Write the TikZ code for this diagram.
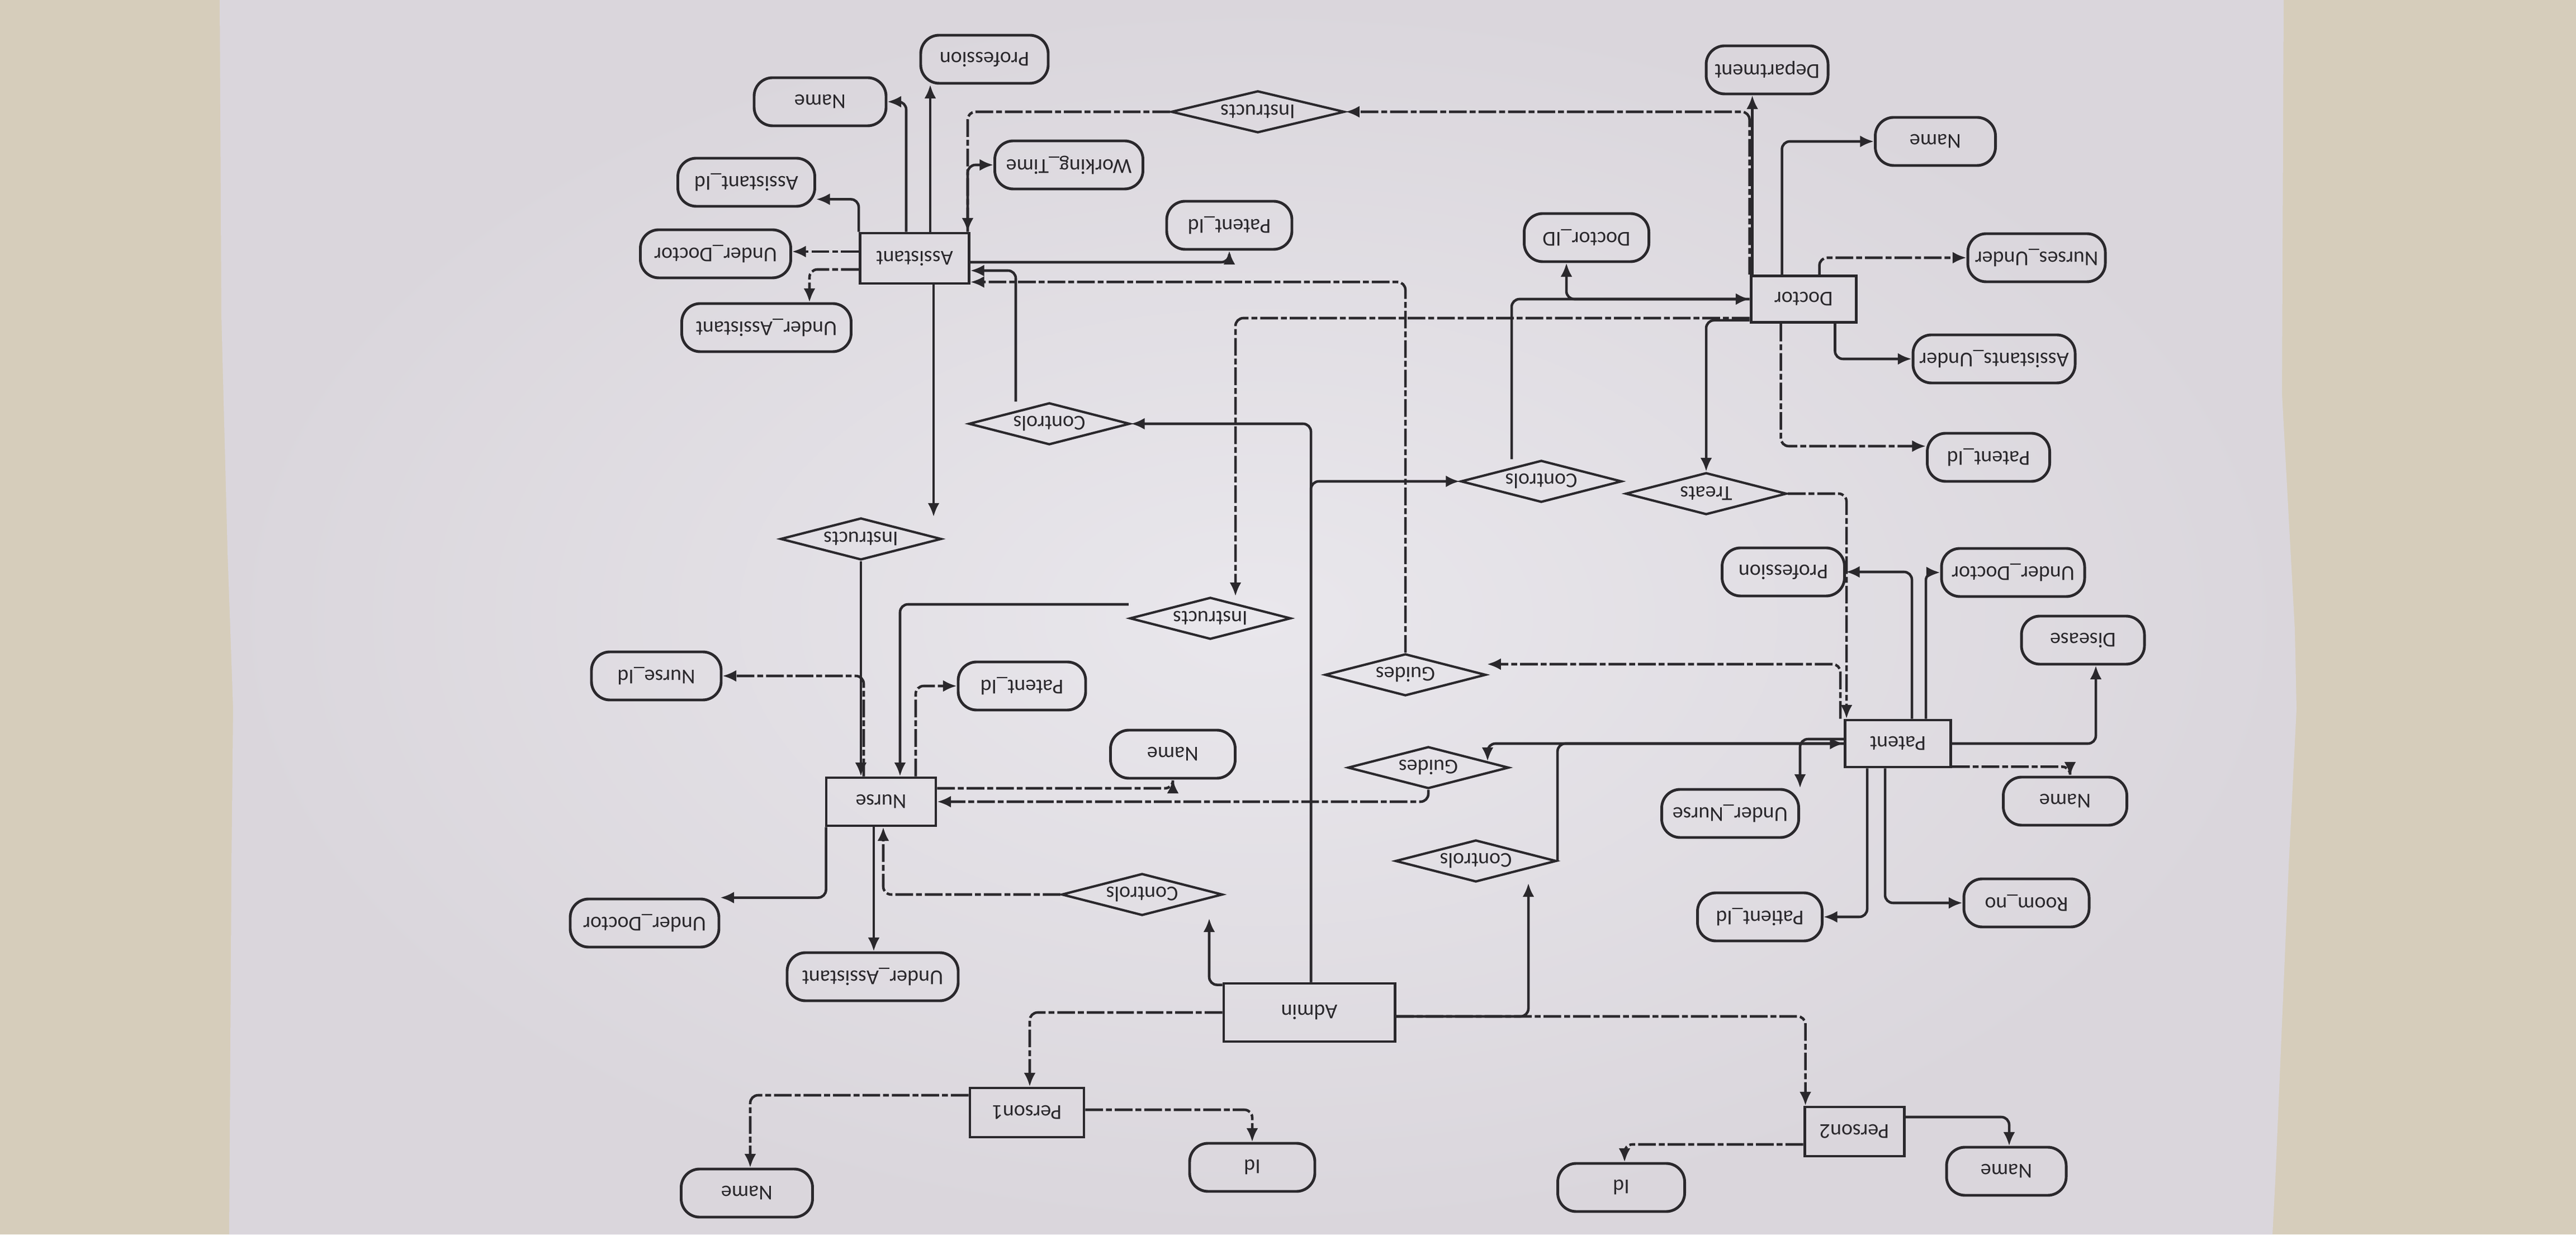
\documentclass[tikz,border=0pt]{standalone}
\usepackage{fontspec}
\usepackage{graphicx}
\setmainfont{Carlito}
\usetikzlibrary{shapes.geometric, arrows.meta, calc}

\definecolor{desk}{RGB}{214,205,187}
\definecolor{paper}{RGB}{218,214,220}
\definecolor{paperhi}{RGB}{233,231,236}
\definecolor{ink}{RGB}{42,40,44}

\newcommand{\updown}[1]{\rotatebox{180}{#1}}

\tikzset{
  ent/.style={rectangle, draw=ink, line width=1.4pt, minimum width=1.9cm, minimum height=0.86cm, inner sep=0pt, text=ink, font=\fontsize{10.8}{12}\selectfont},
  attr/.style={rectangle, rounded corners=3.3mm, draw=ink, line width=1.4pt, minimum height=0.86cm, inner sep=0pt, text=ink, font=\fontsize{10.8}{12}\selectfont},
  rel/.style={diamond, aspect=3.9, draw=ink, line width=1.2pt, minimum width=2.88cm, minimum height=0.75cm, inner sep=0pt, text=ink, font=\fontsize{10.8}{12}\selectfont},
  lnk/.style={draw=ink, line width=1.3pt, rounded corners=4pt, ->},
  dsh/.style={lnk, dash pattern=on 9pt off 1.5pt on 3pt off 1.5pt}
}

\begin{document}
\begin{tikzpicture}[>={Latex[length=7pt,width=6pt]}]
\useasboundingbox (0,0) rectangle (46.08,22.08);

% desk and sheet
\fill[desk] (0,0) rectangle (46.08,22.08);
\shade[inner color=paperhi, outer color=paper] (3.93,22.08) -- (3.96,16.45) -- (4.07,12.22) -- (4.17,9.40) -- (4.14,6.59) -- (4.10,0) -- (40.65,0) -- (40.70,0.95) -- (40.94,6.59) -- (41.08,9.40) -- (41.05,10.81) -- (40.82,15.04) -- (40.85,22.08) -- cycle;

% Assistant
\node[ent, minimum width=1.95cm, minimum height=0.9cm] (asst) at (16.36,17.46) {\updown{Assistant}};
\node[attr, minimum width=2.36cm] (aName) at (14.67,20.26) {\updown{Name}};
\node[attr, minimum width=2.28cm] (aProf) at (17.61,21.02) {\updown{Profession}};
\node[attr, minimum width=2.65cm] (aWork) at (19.12,19.13) {\updown{Working\_Time}};
\node[attr, minimum width=2.45cm] (aAid) at (13.35,18.82) {\updown{Assistant\_Id}};
\node[attr, minimum width=2.24cm] (aPid) at (21.99,18.05) {\updown{Patent\_Id}};
\node[attr, minimum width=2.69cm] (aUdoc) at (12.80,17.54) {\updown{Under\_Doctor}};
\node[attr, minimum width=3.03cm] (aUasst) at (13.71,16.22) {\updown{Under\_Assistant}};

% Doctor
\node[ent, minimum width=1.88cm, minimum height=0.83cm] (doc) at (32.26,16.73) {\updown{Doctor}};
\node[attr, minimum width=2.18cm] (dDept) at (31.61,20.83) {\updown{Department}};
\node[attr, minimum width=2.15cm] (dName) at (34.62,19.55) {\updown{Name}};
\node[attr, minimum width=2.23cm] (dId) at (28.38,17.83) {\updown{Doctor\_ID}};
\node[attr, minimum width=2.46cm] (dNurses) at (36.43,17.47) {\updown{Nurses\_Under}};
\node[attr, minimum width=2.90cm] (dAssts) at (35.67,15.66) {\updown{Assistants\_Under}};
\node[attr, minimum width=2.19cm] (dPid) at (35.57,13.90) {\updown{Patent\_Id}};

% relations
\node[rel, minimum width=3.1cm] (instTop) at (22.50,20.08) {\updown{Instructs}};
\node[rel] (ctrlA) at (18.77,14.50) {\updown{Controls}};
\node[rel] (instL) at (15.40,12.44) {\updown{Instructs}};
\node[rel] (ctrlD) at (27.57,13.47) {\updown{Controls}};
\node[rel] (treats) at (30.52,13.25) {\updown{Treats}};
\node[rel] (instM) at (21.65,11.02) {\updown{Instructs}};
\node[rel] (guideA) at (25.14,10.01) {\updown{Guides}};
\node[rel] (guideN) at (25.55,8.35) {\updown{Guides}};
\node[rel] (ctrlP) at (26.40,6.68) {\updown{Controls}};
\node[rel] (ctrlN) at (20.43,6.08) {\updown{Controls}};

% Patient
\node[ent, minimum width=1.89cm, minimum height=0.84cm] (pat) at (33.95,8.78) {\updown{Patent}};
\node[attr, minimum width=2.19cm] (pProf) at (31.90,11.85) {\updown{Profession}};
\node[attr, minimum width=2.56cm] (pUdoc) at (36.01,11.84) {\updown{Under\_Doctor}};
\node[attr, minimum width=2.20cm] (pDis) at (37.26,10.63) {\updown{Disease}};
\node[attr, minimum width=2.21cm] (pName) at (36.94,7.75) {\updown{Name}};
\node[attr, minimum width=2.45cm] (pUnurse) at (30.95,7.53) {\updown{Under\_Nurse}};
\node[attr, minimum width=2.23cm] (pPid) at (31.48,5.68) {\updown{Patient\_Id}};
\node[attr, minimum width=2.24cm] (pRoom) at (36.25,5.93) {\updown{Room\_no}};

% Nurse
\node[ent, minimum width=1.96cm] (nurse) at (15.76,7.74) {\updown{Nurse}};
\node[attr, minimum width=2.32cm] (nId) at (11.74,9.99) {\updown{Nurse\_Id}};
\node[attr, minimum width=2.28cm] (nPid) at (18.28,9.81) {\updown{Patent\_Id}};
\node[attr, minimum width=2.23cm] (nName) at (20.98,8.59) {\updown{Name}};
\node[attr, minimum width=2.66cm] (nUdoc) at (11.53,5.57) {\updown{Under\_Doctor}};
\node[attr, minimum width=3.06cm] (nUasst) at (15.61,4.61) {\updown{Under\_Assistant}};

% Admin and persons
\node[ent, minimum width=3.06cm, minimum height=1.04cm] (admin) at (23.42,3.97) {\updown{Admin}};
\node[ent, minimum width=2.04cm, minimum height=0.88cm] (p1) at (18.37,2.18) {\updown{Person1}};
\node[attr, minimum width=2.35cm] (p1Name) at (13.36,0.74) {\updown{Name}};
\node[attr, minimum width=2.24cm] (p1Id) at (22.40,1.20) {\updown{Id}};
\node[ent, minimum width=1.78cm, minimum height=0.88cm] (p2) at (33.17,1.84) {\updown{Person2}};
\node[attr, minimum width=2.14cm] (p2Name) at (35.89,1.13) {\updown{Name}};
\node[attr, minimum width=2.27cm] (p2Id) at (29.00,0.84) {\updown{Id}};

% Assistant links
\draw[lnk] ([xshift=-1.5mm]asst.north) |- (aName.east);
\draw[lnk] ([xshift=2.8mm]asst.north) -- ([xshift=2.8mm]asst.north |- aProf.south);
\draw[dsh] (instTop.west) -| ([xshift=-0.5mm]asst.north east);
\draw[lnk] ([xshift=-0.5mm]asst.north east) |- (aWork.west);
\draw[lnk] ([yshift=-0.7mm]asst.east) -| (aPid.south);
\draw[lnk] (asst.north west) |- ([yshift=1.5mm]aAid.south east);
\draw[dsh] ([yshift=1.2mm]asst.west) -- ([yshift=1.2mm]asst.west -| aUdoc.east);
\draw[dsh] ([yshift=-2mm]asst.west) -| ([xshift=7.7mm]aUasst.north);
\draw[lnk] ([xshift=-6mm]ctrlA.north) |- ([yshift=-2.2mm]asst.east);
\draw[dsh] (guideA.north) |- ([yshift=0.5mm]asst.south east);
\draw[lnk] ([xshift=3.4mm]asst.south) -- ([xshift=3.4mm]asst.south |- instL.north);
\draw[lnk] (instL.south) -- (instL.south |- nurse.north);

% Doctor links
\draw[lnk] ([xshift=0.5mm]doc.north west) -- ([xshift=0.5mm]doc.north west |- dDept.south);
\draw[dsh] (doc.north west) |- (instTop.east);
\draw[lnk] ([xshift=5.8mm]doc.north west) |- (dName.west);
\draw[dsh] ([xshift=12.5mm]doc.north west) |- (dNurses.west);
\draw[lnk] ([xshift=-4mm]doc.south east) |- (dAssts.west);
\draw[dsh] ([xshift=5.6mm]doc.south west) |- ([yshift=2mm]dPid.west);
\draw[lnk] ([yshift=0.6mm]doc.south west) -| (treats.north);
\draw[lnk] ([xshift=-5.3mm]ctrlD.north) |- (doc.west);
\draw[lnk] (doc.west) -| ([xshift=-3.6mm]dId.south);
\draw[dsh] ([yshift=-3.4mm]doc.west) -| ([xshift=4.5mm]instM.north);

% Admin links
\draw[lnk] ([xshift=0.3mm]admin.north) |- (ctrlD.west);
\draw[lnk] ([xshift=0.3mm]admin.north) |- (ctrlA.east);
\draw[lnk] ([yshift=-0.5mm]admin.north west) -| ([xshift=12mm,yshift=-0.3mm]ctrlN.south);
\draw[dsh] (admin.west) -| ([xshift=0.5mm]p1.north);
\draw[dsh] ([yshift=-0.7mm]admin.east) -| ([xshift=0.4mm]p2.north west);
\draw[lnk] ([yshift=-0.7mm]admin.east) -| ([xshift=9.4mm]ctrlP.south);
\draw[dsh] ([yshift=3.1mm]p1.west) -| ([xshift=0.6mm]p1Name.north);
\draw[dsh] ([yshift=0.5mm]p1.east) -| (p1Id.north);
\draw[lnk] ([yshift=2.6mm]p2.east) -| ([xshift=0.5mm]p2Name.north);
\draw[dsh] ([yshift=-2.3mm]p2.west) -| ([xshift=0.6mm]p2Id.north);

% Patient links
\draw[dsh] (treats.east) -| ([xshift=0.5mm]pat.north west);
\draw[dsh] ([xshift=-0.6mm]pat.north west) |- ([yshift=1.9mm]guideA.east);
\draw[lnk] ([xshift=2.5mm]pat.north) |- (pProf.east);
\draw[lnk] ([xshift=5mm]pat.north) |- (pUdoc.west);
\draw[lnk] (pat.east) -| ([xshift=2.3mm]pDis.south);
\draw[dsh] ([yshift=0.3mm]pat.south east) -| ([xshift=0.9mm]pName.north);
\draw[lnk] ([yshift=0.8mm]pat.west) -| (pUnurse.north east);
\draw[lnk] (ctrlP.east) |- (pat.west);
\draw[lnk] (pat.west) -| ([xshift=10.6mm,yshift=-2.8mm]guideN.north);
\draw[lnk] ([xshift=-5.5mm]pat.south) |- (pPid.east);
\draw[lnk] ([xshift=-2.3mm]pat.south) |- (pRoom.west);

% Nurse links
\draw[dsh] (guideN.south) |- (nurse.east);
\draw[dsh] ([yshift=2.4mm]nurse.east) -| (nName.south);
\draw[dsh] ([xshift=-3.1mm]nurse.north) |- (nId.east);
\draw[dsh] ([xshift=6.2mm]nurse.north) |- (nPid.west);
\draw[lnk] ([yshift=2.5mm]instM.west) -| ([xshift=3.4mm]nurse.north);
\draw[lnk] ([xshift=0.2mm]nurse.south west) |- (nUdoc.north east);
\draw[lnk] ([xshift=-1.3mm]nurse.south) -- ([xshift=-1.3mm]nurse.south |- nUasst.north);
\draw[dsh] (ctrlN.west) -| ([xshift=0.4mm]nurse.south);
\end{tikzpicture}
\end{document}
